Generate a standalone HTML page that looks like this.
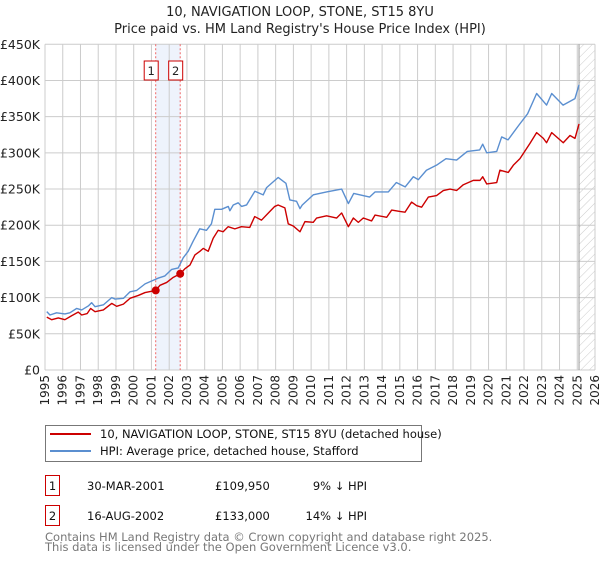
<!DOCTYPE html>
<html><head><meta charset="utf-8">
<style>
body{margin:0;background:#fff;font-family:"DejaVu Sans","Liberation Sans",sans-serif;}
svg text{font-family:"DejaVu Sans","Liberation Sans",sans-serif;}
</style></head>
<body>
<svg id="c" width="600" height="560" viewBox="0 0 600 560" xmlns="http://www.w3.org/2000/svg">
<defs>
<pattern id="hatch" width="6" height="6" patternUnits="userSpaceOnUse" patternTransform="rotate(45)">
<line x1="0" y1="0" x2="0" y2="6" stroke="#ccc" stroke-width="1"/>
</pattern>
</defs>
<text x="300" y="16" text-anchor="middle" font-size="13" fill="#222">10, NAVIGATION LOOP, STONE, ST15 8YU</text>
<text x="300" y="33" text-anchor="middle" font-size="13" fill="#222">Price paid vs. HM Land Registry's House Price Index (HPI)</text>
<g id="grid"></g>
<g id="plot"></g>
<g id="xlabels"></g>
<g id="ylabels"></g>

<g>
<rect x="45.5" y="425.5" width="376" height="36" fill="#fff" stroke="#777"/>
<line x1="50" y1="434" x2="91" y2="434" stroke="#cc0000" stroke-width="2"/>
<text x="100" y="438" font-size="11.5" fill="#111">10, NAVIGATION LOOP, STONE, ST15 8YU (detached house)</text>
<line x1="50" y1="451" x2="91" y2="451" stroke="#5b8fd0" stroke-width="2"/>
<text x="100" y="455" font-size="11.5" fill="#111">HPI: Average price, detached house, Stafford</text>
</g>

<g font-size="11.5" fill="#111">
<rect x="45.5" y="475.5" width="14" height="20" fill="#fff" stroke="#cc0000"/>
<text x="52.5" y="490" text-anchor="middle">1</text>
<text x="87" y="490">30-MAR-2001</text>
<text x="215" y="490">£109,950</text>
<text x="367" y="490" text-anchor="end">9% ↓ HPI</text>
<rect x="45.5" y="505.5" width="14" height="20" fill="#fff" stroke="#cc0000"/>
<text x="52.5" y="520" text-anchor="middle">2</text>
<text x="87" y="520">16-AUG-2002</text>
<text x="215" y="520">£133,000</text>
<text x="367" y="520" text-anchor="end">14% ↓ HPI</text>
</g>
<text x="45" y="541" font-size="11.5" fill="#777">Contains HM Land Registry data © Crown copyright and database right 2025.</text>
<text x="45" y="551" font-size="11.5" fill="#777">This data is licensed under the Open Government Licence v3.0.</text>
</svg>
<script>
const yearTicks=[1995,1996,1997,1998,1999,2000,2001,2002,2003,2004,2005,2006,2007,2008,2009,2010,2011,2012,2013,2014,2015,2016,2017,2018,2019,2020,2021,2022,2023,2024,2025,2026];
const priceTicks=[0,50000,100000,150000,200000,250000,300000,350000,400000,450000];
const priceTickLabels=["£0","£50K","£100K","£150K","£200K","£250K","£300K","£350K","£400K","£450K"];
const hpiYears=[1995.1,1995.28,1995.65,1996.12,1996.4,1996.78,1997.07,1997.44,1997.63,1997.82,1998.29,1998.76,1998.95,1999.42,1999.79,2000.17,2000.64,2001.01,2001.39,2001.76,2002.14,2002.51,2002.79,2003.07,2003.35,2003.72,2004.1,2004.38,2004.57,2004.95,2005.33,2005.42,2005.61,2005.89,2006.08,2006.36,2006.83,2007.3,2007.49,2007.77,2008.14,2008.58,2008.8,2009.18,2009.37,2009.5,2010.12,2010.87,2011.72,2012.1,2012.4,2013.3,2013.6,2014.35,2014.8,2015.3,2015.76,2016.04,2016.5,2017.07,2017.6,2018.2,2018.8,2019.5,2019.67,2019.9,2020.46,2020.74,2021.1,2021.7,2022.2,2022.71,2023.27,2023.56,2024.2,2024.87,2025.1];
const hpiValues=[80600,76000,79000,77500,79000,85000,83000,88500,93000,87500,90000,100000,98000,99000,108000,110000,119000,123000,127000,130000,139000,141000,155000,164000,178000,195000,193000,202000,222000,222000,226000,220000,228000,231000,226000,228000,247000,242000,252000,258000,266000,258000,235000,233000,223000,228000,242000,246000,250000,230000,244000,239000,246000,246000,259000,253000,267000,263000,276000,283000,292000,290000,302000,304000,312000,300000,302000,322000,318000,338000,354000,382000,366000,382000,366000,375000,394000];
const ppYears=[1995.1,1995.38,1995.75,1996.12,1996.5,1996.87,1997.07,1997.38,1997.57,1997.82,1998.29,1998.76,1999.04,1999.42,1999.79,2000.26,2000.64,2001.24,2001.48,2001.86,2002.23,2002.62,2002.89,2003.17,2003.45,2003.73,2003.92,2004.2,2004.48,2004.76,2005.04,2005.32,2005.7,2006.07,2006.54,2006.82,2007.2,2007.67,2007.95,2008.14,2008.52,2008.71,2008.99,2009.37,2009.65,2010.12,2010.31,2010.87,2011.44,2011.72,2012.1,2012.38,2012.66,2012.94,2013.41,2013.6,2014.26,2014.54,2015.0,2015.29,2015.66,2015.95,2016.23,2016.61,2017.07,2017.45,2017.83,2018.2,2018.58,2019.14,2019.52,2019.67,2019.9,2020.46,2020.64,2021.11,2021.4,2021.77,2022.33,2022.71,2023.09,2023.27,2023.56,2023.93,2024.21,2024.59,2024.87,2025.1];
const ppValues=[73000,69500,72000,69500,75000,80000,76000,78000,85000,80600,83000,92000,88000,91000,99000,103000,107000,109950,117000,121000,128000,133000,140000,145000,159000,164000,168000,164000,182000,193000,191000,198000,195000,198000,197000,212000,207000,219000,226000,228000,224000,202000,199000,191000,205000,204000,210000,213000,210000,217000,198000,210000,204000,210000,206000,214000,211000,221000,219000,218000,232000,227000,225000,239000,241000,248000,250000,248000,256000,262000,262000,267000,257000,259000,276000,273000,283000,292000,313000,328000,320000,314000,328000,320000,314000,324000,320000,340000];
const saleYears=[2001.24,2002.62];
const saleValues=[109950,133000];
const saleLabels=["1","2"];

const X0=45,X1=595,Y0=370,Y1=44.3;
const xs=y=>X0+(y-1995)/(2026-1995)*(X1-X0);
const ys=v=>Y0-v/450000*(Y0-Y1);
const NS="http://www.w3.org/2000/svg";
function mk(tag,attrs,parent){const e=document.createElementNS(NS,tag);for(const k in attrs)e.setAttribute(k,attrs[k]);parent.appendChild(e);return e;}
const grid=document.getElementById('grid'),plot=document.getElementById('plot'),xl=document.getElementById('xlabels'),yl=document.getElementById('ylabels');

const band=mk('rect',{x:xs(saleYears[0]),y:Y1,width:xs(saleYears[1])-xs(saleYears[0]),height:Y0-Y1,fill:'#eef3fc'},grid);


const hatch=mk('rect',{x:xs(2025.1),y:Y1,width:X1-xs(2025.1),height:Y0-Y1,fill:'url(#hatch)'},grid);



yearTicks.forEach(t=>{
  const l=mk('line',{x1:xs(t),x2:xs(t),y1:Y1,y2:Y0,stroke:'#cccccc','stroke-width':1},grid);
  
  
  const tx=mk('text',{x:0,y:0,'font-size':12,fill:'#222','text-anchor':'end',transform:`translate(${xs(t)+4},375) rotate(-90)`},xl);
  tx.textContent=t;
  
  
});
priceTicks.forEach((t,i)=>{
  const l=mk('line',{x1:X0,x2:X1,y1:ys(t),y2:ys(t),stroke:'#cccccc','stroke-width':1},grid);
  
  
  const tx=mk('text',{x:40,y:ys(t)+4.5,'font-size':12.5,fill:'#222','text-anchor':'end'},yl);
  tx.textContent=priceTickLabels[i];
  
  
});
const endLine=mk('line',{x1:xs(2025.1),x2:xs(2025.1),y1:Y1,y2:Y0,stroke:'#999','stroke-width':1},grid);



saleYears.forEach((sy,i)=>{
  const l=mk('line',{x1:xs(sy),x2:xs(sy),y1:Y1,y2:Y0,stroke:'#ee6666','stroke-width':1,'stroke-dasharray':'2,2'},plot);
  
  
  const bx=xs(sy)-4.5;
  const r=mk('rect',{x:bx-7,y:61,width:14,height:19,fill:'#fff',stroke:'#cc0000'},plot);
  
  
  const t=mk('text',{x:bx,y:75,'font-size':11.5,'text-anchor':'middle',fill:'#222'},plot);
  t.textContent=saleLabels[i];
  
  
});

const hp=mk('polyline',{points:hpiYears.map((y,i)=>xs(y)+','+ys(hpiValues[i])).join(' '),fill:'none',stroke:'#5b8fd0','stroke-width':1.4,'stroke-linejoin':'round'},plot);


const pp=mk('polyline',{points:ppYears.map((y,i)=>xs(y)+','+ys(ppValues[i])).join(' '),fill:'none',stroke:'#cc0000','stroke-width':1.4,'stroke-linejoin':'round'},plot);


saleYears.forEach((sy,i)=>{
  const c=mk('circle',{cx:xs(sy),cy:ys(saleValues[i]),r:4,fill:'#cc0000'},plot);
  
  
});
</script>
</body></html>
